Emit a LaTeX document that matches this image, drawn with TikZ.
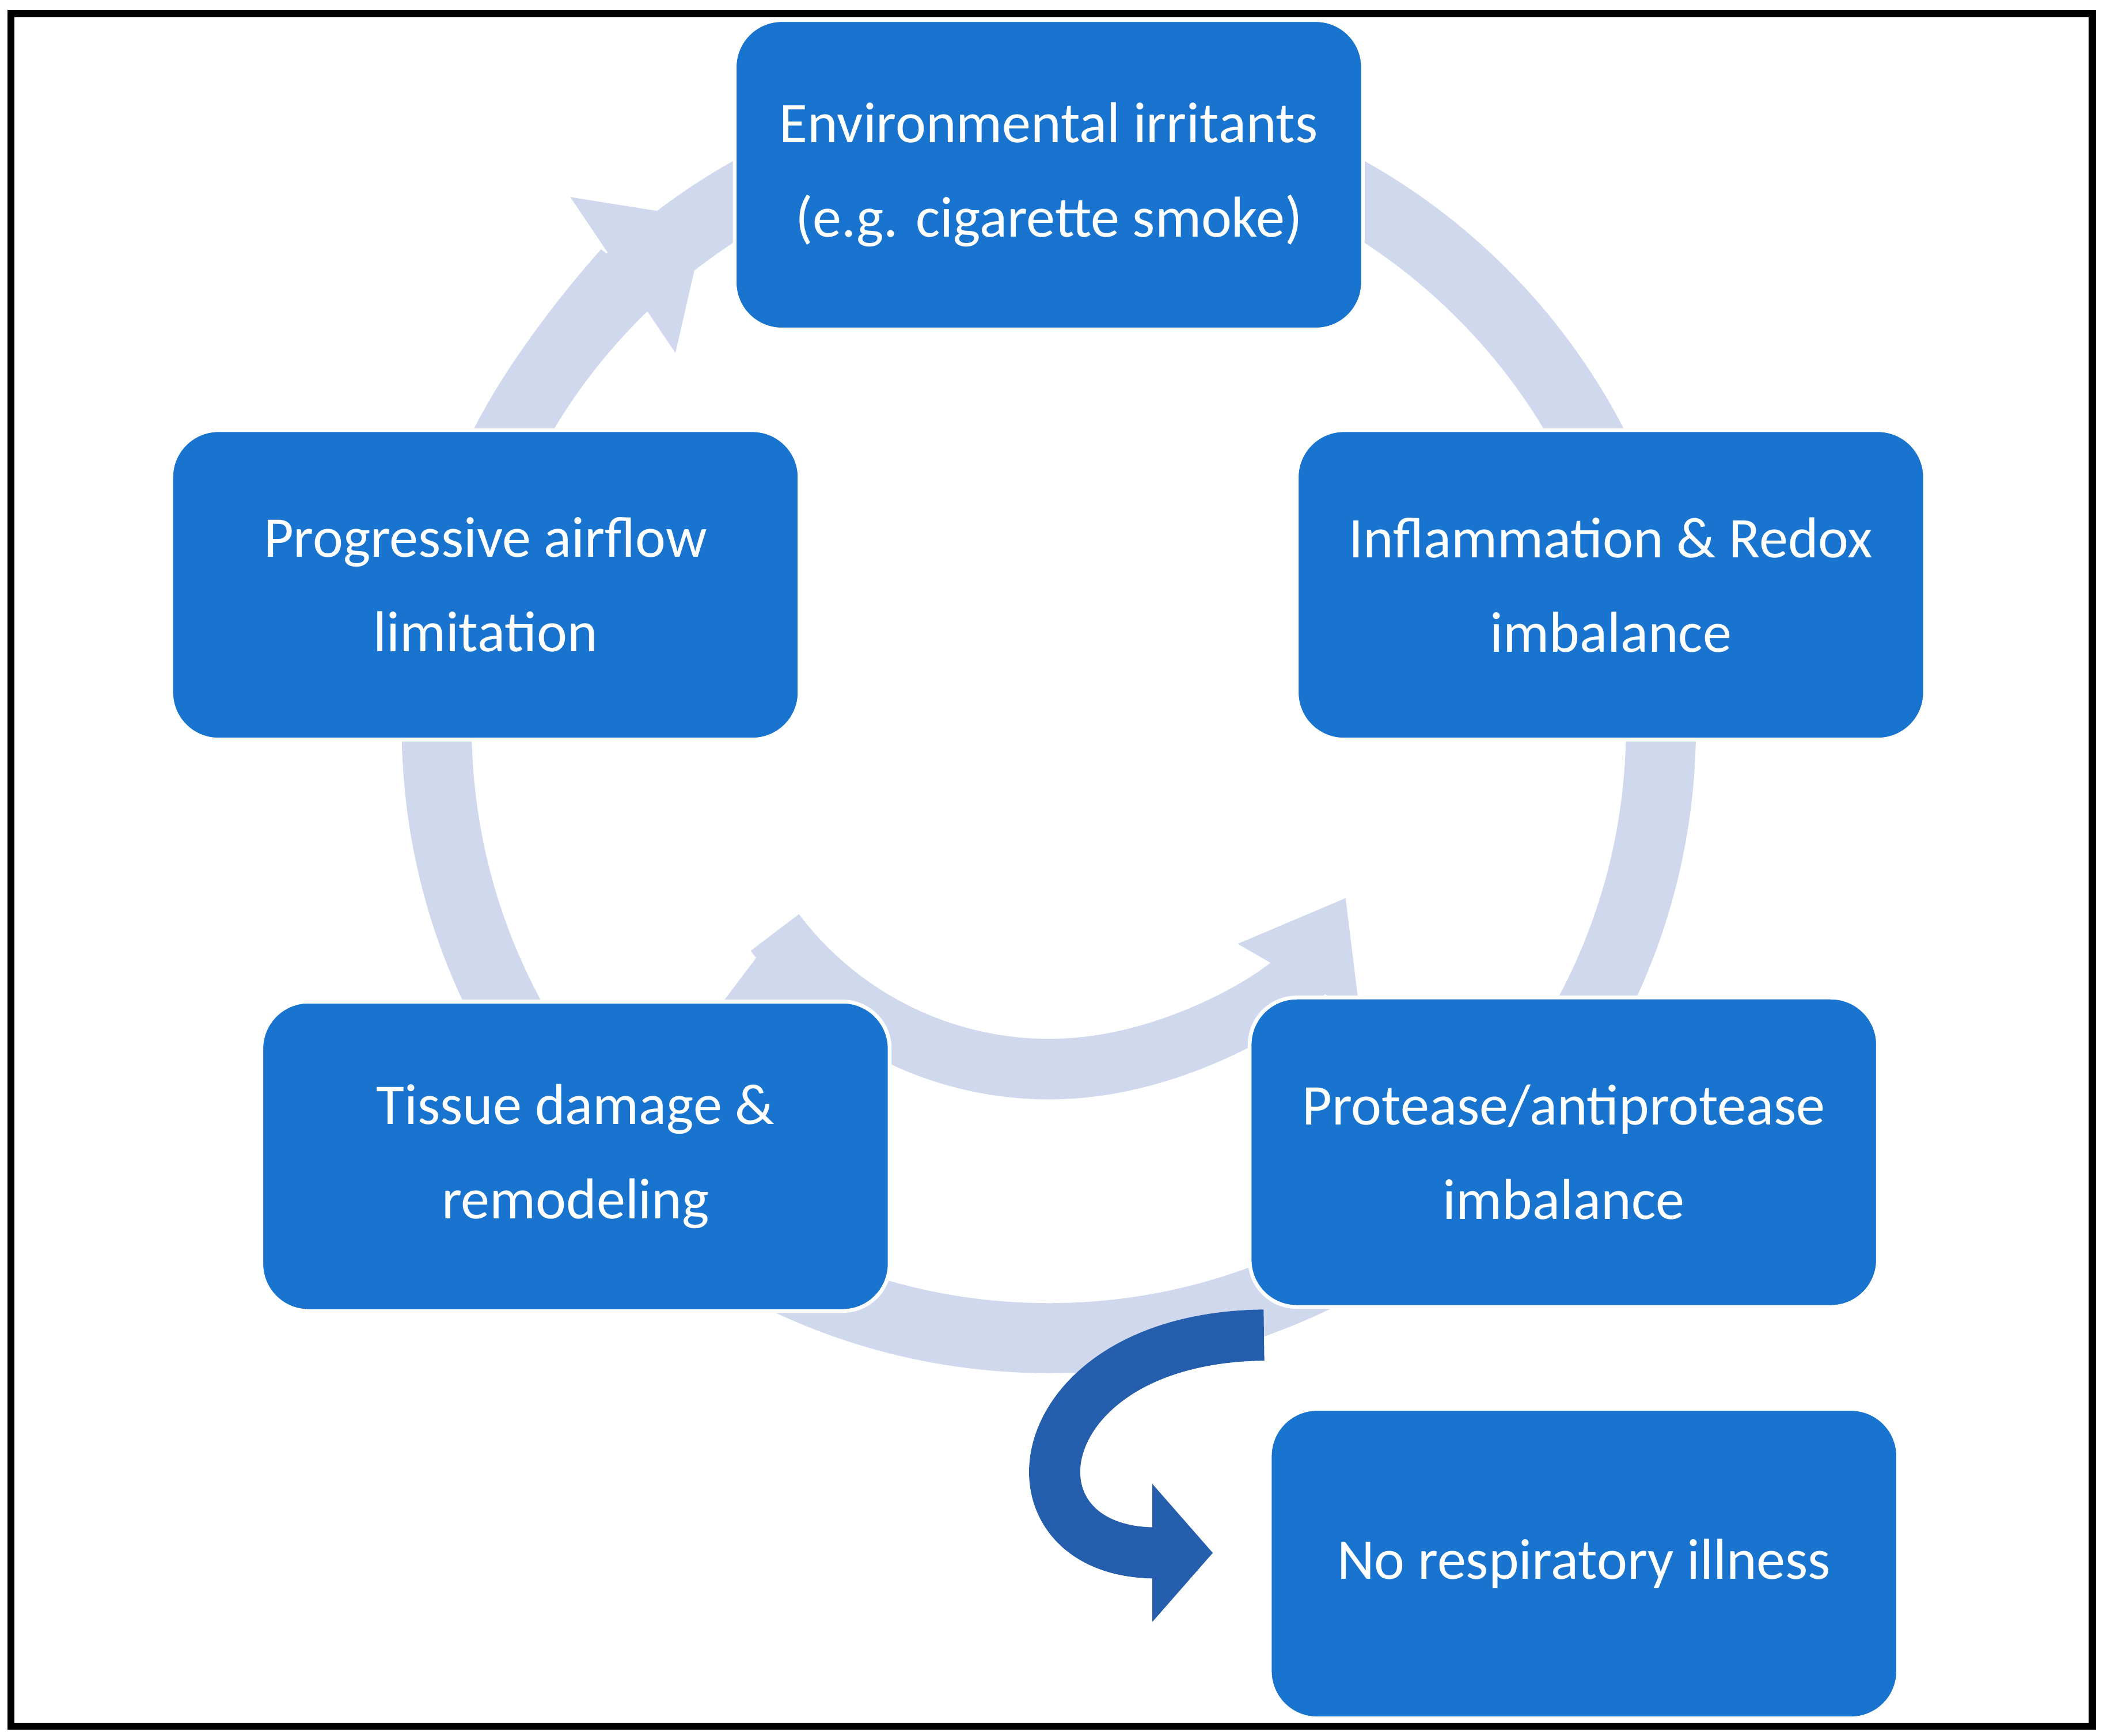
\documentclass[tikz,border=0pt]{standalone}
\usepackage{fontspec}
\setmainfont{Carlito}
\usetikzlibrary{arrows.meta}
\definecolor{boxblue}{RGB}{24,116,206}
\definecolor{ringc}{RGB}{207,216,236}
\definecolor{darkb}{RGB}{36,94,172}
\tikzset{
 box/.style={rounded corners=0.35cm, fill=boxblue, draw=white, line width=0.8pt, minimum width=4.67cm, minimum height=2.3cm, align=center, text=white, font=\fontsize{12.2}{20}\selectfont}
}
\begin{document}
\begin{tikzpicture}[x=0.01cm,y=-0.01cm]
\useasboundingbox (0,0) rectangle (1564,1291);
\draw[line width=1.5pt] (8,10) rectangle (1556,1284);
% outer ring
\coordinate (c) at (780,540);
\draw[ringc, line width=0.52cm] (c) circle[radius=4.55cm];
\draw[ringc, line width=0.52cm, -{Triangle[width=1.35cm,length=0.75cm]}] (c) ++(150:4.55cm) arc[start angle=150, end angle=124, radius=4.55cm];
% inner arrow
\draw[ringc, line width=0.45cm, -{Triangle[width=1.0cm,length=0.7cm]}] (c) ++(-38:2.55cm) ++(0,0) (c) ++(217:2.55cm) coordinate(is);
\draw[ringc, line width=0.45cm, -{Triangle[width=1.0cm,length=0.7cm]}] (is) arc[start angle=217, end angle=330, radius=2.55cm];
% nodes
\node[box] (env) at (780,130) {Environmental irritants\\(e.g. cigarette smoke)};
\node[box] (inf) at (1198,435) {Inflammation \& Redox\\imbalance};
\node[box] (pro) at (1163,857) {Protease/antiprotease\\imbalance};
\node[box] (tis) at (428,860) {Tissue damage \&\\remodeling};
\node[box] (prog) at (361,435) {Progressive airflow\\limitation};
\node[box] (nor) at (1178,1163) {No respiratory illness};
% dark arrow
\coordinate (ds) at (940,993);
\coordinate (de) at (902,1155);
\draw[darkb, line width=0.38cm, -{Triangle[width=1.0cm,length=0.45cm]}] (ds) .. controls (760,995) and (740,1155) .. (de);
\path (ds) -- (pro.south west);
\end{tikzpicture}
\end{document}
